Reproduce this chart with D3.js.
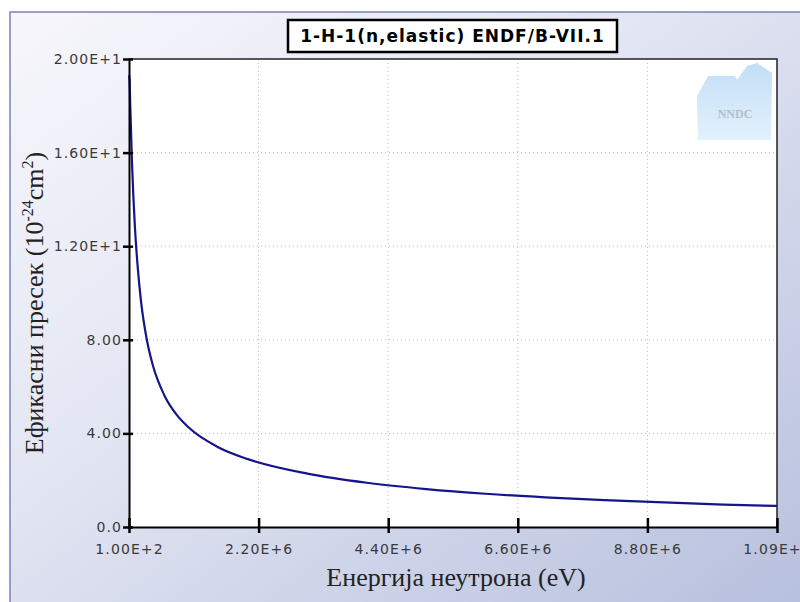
<!DOCTYPE html>
<html>
<head>
<meta charset="utf-8">
<script src="https://cdn.jsdelivr.net/npm/d3@7"></script>
<style>
  body { margin: 0; background: #fff; }
  svg { display: block; }
</style>
</head>
<body>
<svg id="chart" width="800" height="602"></svg>
<script>
// neutron energy (eV) and elastic cross section (barns)
const energy = [100, 1e4, 2e4, 5e4, 1e5, 1.5e5, 2e5, 3e5, 4e5, 6e5, 8e5, 1e6,
                1.5e6, 2e6, 3e6, 4e6, 5e6, 6e6, 7e6, 8e6, 9e6, 1e7, 1.09e7];
const xs     = [19.3, 19.1, 18.1, 15.6, 12.8, 11.0, 9.7, 8.0, 6.92, 5.6, 4.8, 4.26,
                3.41, 2.9, 2.28, 1.89, 1.62, 1.42, 1.27, 1.15, 1.05, 0.96, 0.90];

const yTickValues = [0, 4, 8, 12, 16, 20];
const yTickLabels = ["0.0", "4.00", "8.00", "1.20E+1", "1.60E+1", "2.00E+1"];
const xTickLabels = ["1.00E+2", "2.20E+6", "4.40E+6", "6.60E+6", "8.80E+6", "1.09E+7"];

const title = "1-H-1(n,elastic) ENDF/B-VII.1";

const svg = d3.select("#chart");
const pLeft = 129, pRight = 777, pTop = 59, pBottom = 527;

const xMin = energy[0], xMax = energy[energy.length - 1];
const xTickValues = xTickLabels.map((d, i) => xMin + i * (xMax - xMin) / (xTickLabels.length - 1));

const scaleX = d3.scaleLinear().domain([xMin, xMax]).range([pLeft, pRight]);
const scaleY = d3.scaleLinear().domain([0, 20]).range([pBottom, pTop]);

// background panel
const defs = svg.append("defs");
const grad = defs.append("linearGradient").attr("id", "bg")
    .attr("x1", "0%").attr("y1", "0%").attr("x2", "100%").attr("y2", "100%");
grad.append("stop").attr("offset", "0%").attr("stop-color", "#f7f7fc");
grad.append("stop").attr("offset", "40%").attr("stop-color", "#e3e6f3");
grad.append("stop").attr("offset", "100%").attr("stop-color", "#b6bfdd");

const logoGrad = defs.append("linearGradient").attr("id", "logoFill")
    .attr("x1", "0%").attr("y1", "0%").attr("x2", "0%").attr("y2", "100%");
logoGrad.append("stop").attr("offset", "0%").attr("stop-color", "#c3def6");
logoGrad.append("stop").attr("offset", "100%").attr("stop-color", "#e3f1fc");

svg.append("rect")
    .attr("x", 10).attr("y", 12)
    .attr("width", 800).attr("height", 600)
    .attr("fill", "url(#bg)")
    .attr("stroke", "#7f7fb6")
    .attr("stroke-width", 1.5);

// plot area
svg.append("rect")
    .attr("x", pLeft).attr("y", pTop)
    .attr("width", pRight - pLeft).attr("height", pBottom - pTop)
    .attr("fill", "#fff");

// NNDC logo (decoration)
const logo = svg.append("g").attr("transform", `translate(${pRight - 82},${pTop + 3})`);
logo.append("path")
    .attr("d", "M2,34 L13,14 L40,14 L42,18 L52,4 L62,1 L77,11 L76,78 L3,78 Z")
    .attr("fill", "url(#logoFill)");
logo.append("text")
    .attr("x", 40).attr("y", 56)
    .attr("text-anchor", "middle")
    .attr("font-family", "Liberation Serif, serif")
    .attr("font-weight", "bold")
    .attr("font-size", 12)
    .attr("fill", "#b3bfcc")
    .text("NNDC");

// grid
svg.append("g").selectAll("line")
    .data(xTickValues.slice(1, -1))
    .join("line")
    .attr("x1", d => scaleX(d)).attr("x2", d => scaleX(d))
    .attr("y1", pTop).attr("y2", pBottom)
    .attr("stroke", "#b8b8b8")
    .attr("stroke-dasharray", "1,3");
svg.append("g").selectAll("line")
    .data(yTickValues.slice(1, -1))
    .join("line")
    .attr("x1", pLeft).attr("x2", pRight)
    .attr("y1", d => scaleY(d)).attr("y2", d => scaleY(d))
    .attr("stroke", "#b8b8b8")
    .attr("stroke-dasharray", "1,3");

// frame: thin top and right
svg.append("path")
    .attr("d", `M${pLeft},${pTop} H${pRight} V${pBottom}`)
    .attr("fill", "none")
    .attr("stroke", "#222")
    .attr("stroke-width", 1.5);

// curve
const line = d3.line()
    .x((d, i) => scaleX(energy[i]))
    .y(d => scaleY(d))
    .curve(d3.curveMonotoneX);

svg.append("path")
    .datum(xs)
    .attr("fill", "none")
    .attr("stroke", "#14148c")
    .attr("stroke-width", 2.2)
    .attr("d", line);

// axes
const tickFont = "DejaVu Sans, sans-serif";

const xAxis = svg.append("g").attr("transform", `translate(0,${pBottom})`)
    .call(d3.axisBottom(scaleX)
        .tickValues(xTickValues)
        .tickFormat((d, i) => xTickLabels[i])
        .tickSizeInner(6).tickSizeOuter(0).tickPadding(11));
xAxis.select(".domain").attr("stroke", "#000").attr("stroke-width", 2);
xAxis.selectAll(".tick line")
    .attr("y1", -9).attr("y2", 6)
    .attr("stroke", "#000").attr("stroke-width", 2.5);
xAxis.selectAll(".tick text")
    .attr("font-family", tickFont).attr("font-size", 14)
    .attr("letter-spacing", "1.1px")
    .attr("fill", "#3a3a3a");

const yAxis = svg.append("g").attr("transform", `translate(${pLeft},0)`)
    .call(d3.axisLeft(scaleY)
        .tickValues(yTickValues)
        .tickFormat((d, i) => yTickLabels[i])
        .tickSizeInner(5).tickSizeOuter(0).tickPadding(3));
yAxis.select(".domain").attr("stroke", "#000").attr("stroke-width", 2);
yAxis.selectAll(".tick line")
    .attr("x1", -6).attr("x2", 4)
    .attr("stroke", "#000").attr("stroke-width", 2.5);
yAxis.selectAll(".tick text")
    .attr("x", -7)
    .attr("font-family", tickFont).attr("font-size", 14)
    .attr("letter-spacing", "1.1px")
    .attr("fill", "#3a3a3a");

// axis titles
svg.append("text")
    .attr("x", (pLeft + pRight) / 2 + 3).attr("y", 586)
    .attr("text-anchor", "middle")
    .attr("font-family", "Liberation Serif, Times New Roman, serif")
    .attr("font-size", 26)
    .attr("fill", "#222")
    .text("Енергија неутрона (eV)");

const yTitle = svg.append("text")
    .attr("transform", `translate(43,${(pTop + pBottom) / 2 + 10}) rotate(-90)`)
    .attr("text-anchor", "middle")
    .attr("font-family", "Liberation Serif, Times New Roman, serif")
    .attr("font-size", 26)
    .attr("fill", "#222");
yTitle.append("tspan").text("Ефикасни пресек (10");
yTitle.append("tspan").attr("font-size", 16).attr("dy", -10).text("-24");
yTitle.append("tspan").attr("dy", 10).text("cm");
yTitle.append("tspan").attr("font-size", 16).attr("dy", -10).text("2");
yTitle.append("tspan").attr("dy", 10).text(")");

// title box
const titleG = svg.append("g");
titleG.append("rect")
    .attr("x", 288).attr("y", 20)
    .attr("width", 329).attr("height", 32)
    .attr("fill", "#fff")
    .attr("stroke", "#000")
    .attr("stroke-width", 2.5);
titleG.append("text")
    .attr("x", 452.5).attr("y", 42)
    .attr("text-anchor", "middle")
    .attr("font-family", "DejaVu Sans, sans-serif")
    .attr("font-weight", "bold")
    .attr("font-size", 17)
    .attr("letter-spacing", "1px")
    .attr("fill", "#000")
    .text(title);
</script>
</body>
</html>
